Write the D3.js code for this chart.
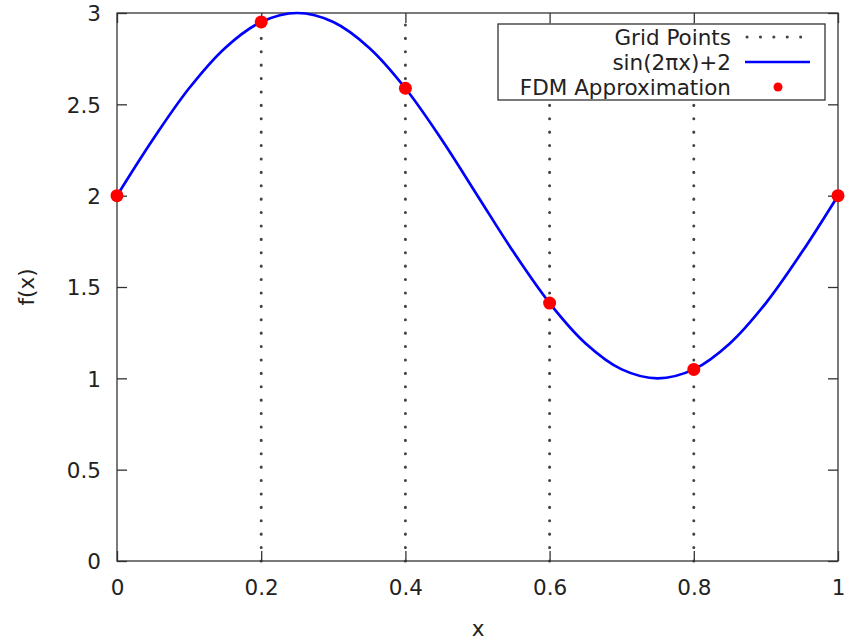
<!DOCTYPE html>
<html>
<head>
<meta charset="utf-8">
<script src="https://cdn.jsdelivr.net/npm/d3@7"></script>
<style>
  body { margin: 0; background: #fff; }
  svg { display: block; font-family: "DejaVu Sans", sans-serif; }
</style>
</head>
<body>
<svg id="chart" width="847" height="640"></svg>
<script>
// ---- data ----
const gridPoints = [0.2, 0.4, 0.6, 0.8];
const fdmX = [0, 0.2, 0.4, 0.6, 0.8, 1.0];
const fdmY = [2.0, 2.951, 2.588, 1.412, 1.049, 2.0];
const curveX = [0, 0.05, 0.1, 0.15, 0.2, 0.25, 0.3, 0.35, 0.4, 0.45, 0.5,
                0.55, 0.6, 0.65, 0.7, 0.75, 0.8, 0.85, 0.9, 0.95, 1.0];
const curveY = [2.0, 2.309, 2.588, 2.809, 2.951, 3.0, 2.951, 2.809, 2.588, 2.309, 2.0,
                1.691, 1.412, 1.191, 1.049, 1.0, 1.049, 1.191, 1.412, 1.691, 2.0];
const xTicks = [0, 0.2, 0.4, 0.6, 0.8, 1];
const xTickLabels = ["0", "0.2", "0.4", "0.6", "0.8", "1"];
const yTicks = [0, 0.5, 1, 1.5, 2, 2.5, 3];
const yTickLabels = ["0", "0.5", "1", "1.5", "2", "2.5", "3"];
const legendLabels = ["Grid Points", "sin(2πx)+2", "FDM Approximation"];

// ---- layout ----
const L = 117, R = 838, T = 13, B = 561;
const svg = d3.select("#chart");
const x = d3.scaleLinear().domain([0, 1]).range([L, R]);
const y = d3.scaleLinear().domain([0, 3]).range([B, T]);
const axisColor = "#333";
const fontSize = 21.5;

// grid dotted lines
svg.append("g").selectAll("line").data(gridPoints).join("line")
  .attr("x1", d => x(d)).attr("x2", d => x(d))
  .attr("y1", B).attr("y2", T)
  .attr("stroke", "#444").attr("stroke-width", 3)
  .attr("stroke-linecap", "round")
  .attr("stroke-dasharray", "0.1,13.3");

// axes with inward ticks
const tickLen = 10;
const fmtX = (d, i) => xTickLabels[i];
const fmtY = (d, i) => yTickLabels[i];

const gx = svg.append("g").attr("transform", `translate(0,${B})`)
  .call(d3.axisBottom(x).tickValues(xTicks).tickFormat(fmtX).tickSizeInner(-tickLen).tickSizeOuter(0));
const gxTop = svg.append("g").attr("transform", `translate(0,${T})`)
  .call(d3.axisTop(x).tickValues(xTicks).tickFormat("").tickSizeInner(-tickLen).tickSizeOuter(0));
const gy = svg.append("g").attr("transform", `translate(${L},0)`)
  .call(d3.axisLeft(y).tickValues(yTicks).tickFormat(fmtY).tickSizeInner(-tickLen).tickSizeOuter(0));
const gyR = svg.append("g").attr("transform", `translate(${R},0)`)
  .call(d3.axisRight(y).tickValues(yTicks).tickFormat("").tickSizeInner(-tickLen).tickSizeOuter(0));

[gx, gxTop, gy, gyR].forEach(g => {
  g.select(".domain").remove();
  g.selectAll("line").attr("stroke", axisColor).attr("stroke-width", 1.3);
  g.selectAll("text").attr("fill", "#222").style("font-size", fontSize + "px")
    .style("font-family", "'DejaVu Sans', sans-serif");
});
gx.selectAll("text").attr("dy", "0.71em").attr("y", 19);
gy.selectAll("text").attr("dy", "0.36em").attr("x", -16);

// border
svg.append("rect").attr("x", L).attr("y", T).attr("width", R - L).attr("height", B - T)
  .attr("fill", "none").attr("stroke", axisColor).attr("stroke-width", 1.3);

// curve
const line = d3.line().x(d => x(d[0])).y(d => y(d[1])).curve(d3.curveCatmullRom.alpha(0.5));
svg.append("path").datum(curveX.map((v, i) => [v, curveY[i]]))
  .attr("d", line).attr("fill", "none").attr("stroke", "#0000ff").attr("stroke-width", 2.7);

// FDM points
svg.append("g").selectAll("circle").data(fdmX.map((v, i) => [v, fdmY[i]])).join("circle")
  .attr("cx", d => x(d[0])).attr("cy", d => y(d[1])).attr("r", 6.5).attr("fill", "#ff0000");

// axis titles
svg.append("text").attr("x", 478).attr("y", 636).attr("text-anchor", "middle")
  .attr("fill", "#222").style("font-size", fontSize + "px").text("x");
svg.append("text").attr("transform", `translate(34,${(T + B) / 2}) rotate(-90)`)
  .attr("text-anchor", "middle").attr("fill", "#222").style("font-size", fontSize + "px").text("f(x)");

// legend
const lg = svg.append("g");
lg.append("rect").attr("x", 498).attr("y", 24).attr("width", 327).attr("height", 76)
  .attr("fill", "#fff").attr("stroke", axisColor).attr("stroke-width", 1.3);
const rowsY = [37, 62, 87];
lg.selectAll("text").data(legendLabels).join("text")
  .attr("x", 731).attr("y", (d, i) => rowsY[i]).attr("dy", "0.36em")
  .attr("text-anchor", "end").attr("fill", "#222").style("font-size", fontSize + "px")
  .text(d => d);
lg.append("line").attr("x1", 747).attr("x2", 810).attr("y1", rowsY[0]).attr("y2", rowsY[0])
  .attr("stroke", "#444").attr("stroke-width", 3).attr("stroke-linecap", "round")
  .attr("stroke-dasharray", "0.1,13.3");
lg.append("line").attr("x1", 745).attr("x2", 810).attr("y1", rowsY[1]).attr("y2", rowsY[1])
  .attr("stroke", "#0000ff").attr("stroke-width", 2.7);
lg.append("circle").attr("cx", 778).attr("cy", rowsY[2]).attr("r", 4.5).attr("fill", "#ff0000");
</script>
</body>
</html>
